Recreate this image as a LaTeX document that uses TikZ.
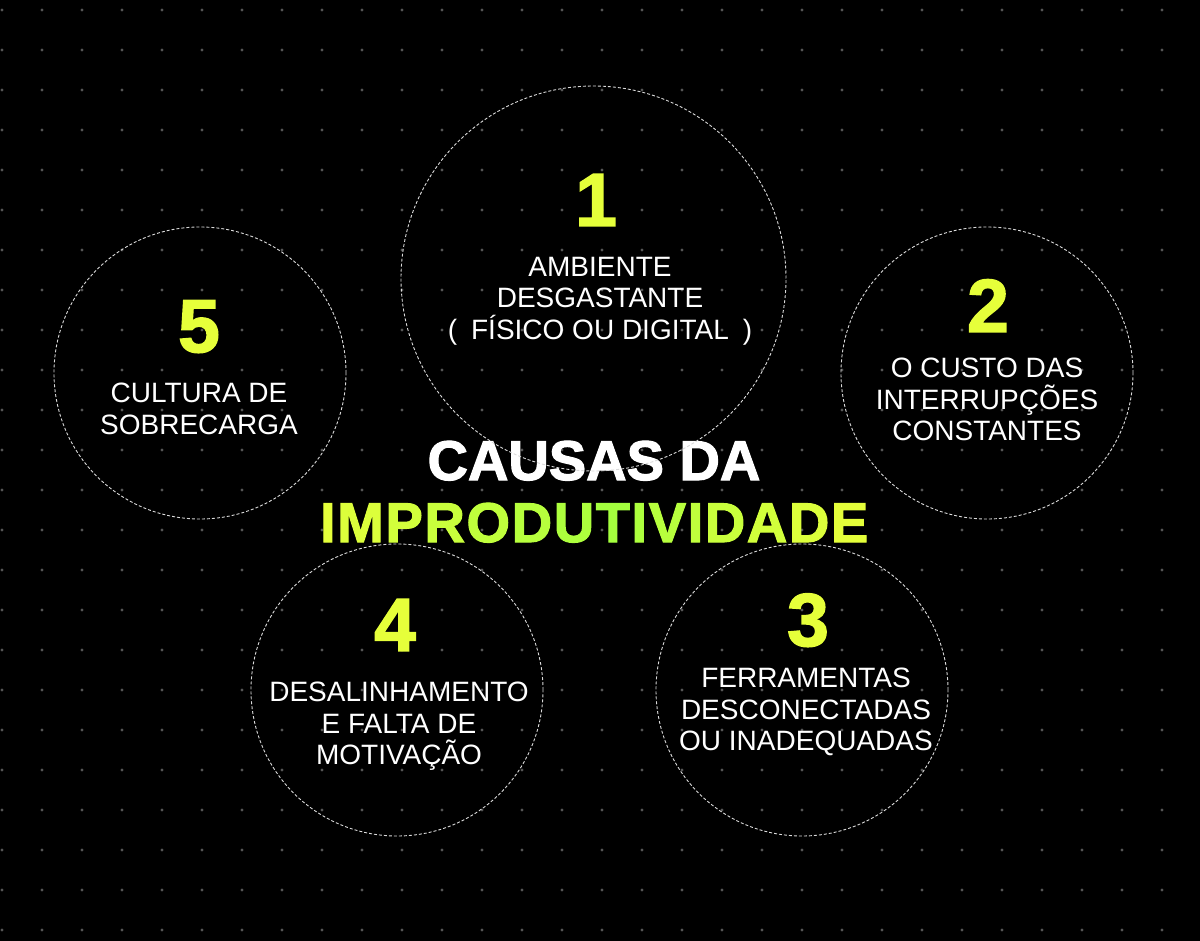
\documentclass[tikz,border=0pt]{standalone}
\usepackage{fontspec}
\usepackage{xcolor}
\usepackage{tikz}
\setmainfont{Liberation Sans}
\newfontfamily\headfont{Liberation Sans}[BoldFeatures={FakeBold=2}]

\definecolor{lime}{HTML}{E6FF3A}
\definecolor{midgreen}{HTML}{A4FF3E}
\definecolor{dotgray}{HTML}{565656}
\definecolor{ringgray}{HTML}{DADADA}

% one letter of the shaded title
\newcommand{\gl}[2]{\textcolor{midgreen!#1!lime}{#2}\kern1.6pt}

\begin{document}
\begin{tikzpicture}[x=1pt,y=-1pt]
			\tikzstyle{cause} = [draw=ringgray, line width=0.9pt, dash pattern=on 3pt off 2pt, circle, minimum size=292pt, inner sep=0pt]
			\tikzstyle{num} = [text=lime, font=\headfont\bfseries\fontsize{75}{75}\selectfont, anchor=south, inner sep=0pt]
			\tikzstyle{label} = [text=white, font=\fontsize{28}{31.5}\selectfont, align=center, anchor=north, inner sep=0pt]
			\tikzstyle{title} = [font=\headfont\bfseries\fontsize{56}{56}\selectfont, anchor=base, inner sep=0pt]
			
			\fill[black] (0,0) rectangle (1200,941);
			\useasboundingbox (0,0) rectangle (1200,941);
			\foreach \i in {0,...,29}
				\foreach \j in {0,...,23}
					\fill[dotgray] (2+40*\i,10+40*\j) circle (1.6pt);
			
			\node[title, text=white](top) at (594,480) {CAUSAS DA};
			\node[title](bottom) at (595,542) {\gl{2}{I}\gl{16}{M}\gl{30}{P}\gl{44}{R}\gl{58}{O}\gl{72}{D}\gl{86}{U}\gl{100}{T}\gl{86}{I}\gl{72}{V}\gl{58}{I}\gl{44}{D}\gl{30}{A}\gl{16}{D}\gl{2}{E}};
			
			\node[cause, minimum size=385pt](ring1) at (593.5,278.5) {};
			\node[num](num1) at (596,226) {1};
			\node[label](text1) at (600,257) {AMBIENTE\\DESGASTANTE\\(\enspace FÍSICO OU DIGITAL\enspace )};
			
			\node[cause](ring2) at (987,373) {};
			\node[num](num2) at (988,332) {2};
			\node[label](text2) at (987,358) {O CUSTO DAS\\INTERRUPÇÕES\\CONSTANTES};
			
			\node[cause](ring3) at (802,690) {};
			\node[num](num3) at (808,647) {3};
			\node[label](text3) at (806,668) {FERRAMENTAS\\DESCONECTADAS\\OU INADEQUADAS};
			
			\node[cause](ring4) at (397,690) {};
			\node[num](num4) at (395,651) {4};
			\node[label](text4) at (399,682) {DESALINHAMENTO\\E FALTA DE\\MOTIVAÇÃO};
			
			\node[cause](ring5) at (200,373) {};
			\node[num](num5) at (199,353) {5};
			\node[label](text5) at (199,383) {CULTURA DE\\SOBRECARGA};
			
\end{tikzpicture}
\end{document}
